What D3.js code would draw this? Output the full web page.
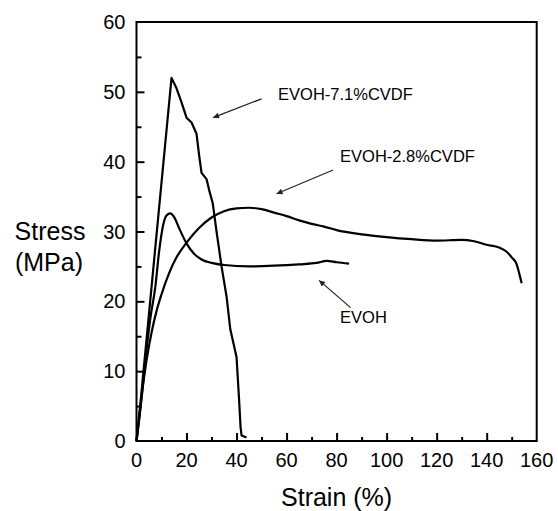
<!DOCTYPE html>
<html>
<head>
<meta charset="utf-8">
<script src="https://cdn.jsdelivr.net/npm/d3@7"></script>
<style>
  body { margin: 0; background: #fff; }
  text { font-family: Arial, "Liberation Sans", sans-serif; fill: #000; }
</style>
</head>
<body>
<svg id="chart" width="558" height="511"></svg>
<script>
// strain (%) / stress (MPa)
var evoh71 = [[0,0],[2,7],[14,52],[16,50.5],[18,48.5],[20,46.3],[22,45.6],[24,44],[25,41],[26,38.4],[28,37.5],[29,36],[30.5,34],[32,30],[34,25],[36,20.7],[37.5,16],[39,13.6],[40,12],[41,6],[41.6,2],[42,0.8],[44,0.5]];
var evoh28 = [[0,0],[1,3],[2,6.3],[4,11.5],[6,15.5],[8,18.6],[10,21],[13,24],[16,26.3],[20,28.4],[25,30.5],[30,32],[35,32.9],[40,33.3],[45,33.4],[50,33.2],[55,32.7],[60,32.2],[65,31.6],[70,31.1],[75,30.7],[80,30.2],[90,29.6],[100,29.2],[110,28.9],[120,28.7],[130,28.8],[135,28.6],[140,28.1],[145,27.7],[148,27.1],[150,26.3],[152,25.3],[153,24],[154,22.6]];
var evoh = [[0,0],[2,6],[4,13],[5.5,17.5],[7.5,22],[9,27],[10.7,31],[12,32.3],[13.5,32.6],[15,32.1],[17,30.5],[20,28.3],[23,26.8],[26,26],[30,25.5],[35,25.2],[45,25],[55,25.1],[65,25.3],[72,25.5],[76,25.8],[80,25.6],[85,25.4]];

var xTicks = [0,20,40,60,80,100,120,140,160];
var yTicks = [0,10,20,30,40,50,60];

// annotations: label, label position, arrow from -> to (data coords)
var labels = [
  {text: "EVOH-7.1%CVDF", x: 56.6, y: 48.9, from: [50,49], to: [30.6,46.3]},
  {text: "EVOH-2.8%CVDF", x: 81.4, y: 40, from: [78.6,38.8], to: [56,35.4]},
  {text: "EVOH", x: 81.4, y: 16.9, from: [85.6,19.1], to: [73,23]}
];

var svg = d3.select("#chart");
var pLeft = 136.5, pTop = 22, pRight = 536.7, pBottom = 441;

var x = d3.scaleLinear().domain([0,160]).range([pLeft,pRight]);
var y = d3.scaleLinear().domain([0,60]).range([pBottom,pTop]);

svg.append("defs").append("marker")
  .attr("id","arr").attr("viewBox","0 0 10 10")
  .attr("refX",10).attr("refY",5)
  .attr("markerWidth",12).attr("markerHeight",6)
  .attr("markerUnits","userSpaceOnUse")
  .attr("orient","auto")
  .append("path").attr("d","M0,0L10,5L0,10z").attr("fill","#222");

//axes with inward ticks
var xAxis = svg.append("g").attr("transform","translate(0,"+pBottom+")")
  .call(d3.axisBottom(x).tickValues(d3.range(0,161,10)).tickSize(-4).tickFormat(""));
xAxis.selectAll(".tick line").filter(function(d){ return d % 20 === 0; }).attr("y2",-8);
xAxis.selectAll(".tick").filter(function(d){ return d === 0 || d === 160; }).remove();

var yAxis = svg.append("g").attr("transform","translate("+pLeft+",0)")
  .call(d3.axisLeft(y).tickValues(d3.range(0,61,5)).tickSize(-5).tickFormat(""));
yAxis.selectAll(".tick line").filter(function(d){ return d % 10 === 0; }).attr("x2",8);
yAxis.selectAll(".tick").filter(function(d){ return d === 0 || d === 60; }).remove();

svg.selectAll(".domain").remove();
svg.selectAll(".tick line").attr("stroke","#000").attr("stroke-width",2);

svg.append("rect").attr("x",pLeft).attr("y",pTop)
  .attr("width",pRight-pLeft).attr("height",pBottom-pTop)
  .attr("fill","none").attr("stroke","#000").attr("stroke-width",2);

svg.append("g").selectAll("text").data(xTicks).enter().append("text")
  .attr("x",function(d){ return x(d); }).attr("y",pBottom+26)
  .attr("text-anchor","middle").style("font-size","20px")
  .text(function(d){ return d; });

svg.append("g").selectAll("text").data(yTicks).enter().append("text")
  .attr("x",pLeft-11).attr("y",function(d){ return y(d)+7; })
  .attr("text-anchor","end").style("font-size","20px")
  .text(function(d){ return d; });

svg.append("text").attr("x",(pLeft+pRight)/2).attr("y",506)
  .attr("text-anchor","middle").style("font-size","25px").text("Strain (%)");
svg.append("text").attr("x",50).attr("y",240)
  .attr("text-anchor","middle").style("font-size","25px").text("Stress");
svg.append("text").attr("x",49).attr("y",271)
  .attr("text-anchor","middle").style("font-size","25px").text("(MPa)");

var lineLin = d3.line().x(function(d){ return x(d[0]); }).y(function(d){ return y(d[1]); });
var lineSmooth = d3.line().curve(d3.curveMonotoneX)
  .x(function(d){ return x(d[0]); }).y(function(d){ return y(d[1]); });

svg.append("path").attr("d",lineLin(evoh71)).attr("fill","none")
  .attr("stroke","#000").attr("stroke-width",2.2).attr("stroke-linejoin","round");
svg.append("path").attr("d",lineSmooth(evoh28)).attr("fill","none")
  .attr("stroke","#000").attr("stroke-width",2.2);
svg.append("path").attr("d",lineSmooth(evoh)).attr("fill","none")
  .attr("stroke","#000").attr("stroke-width",2.2);

var ann = svg.append("g");
labels.forEach(function(l){
  ann.append("text").attr("x",x(l.x)).attr("y",y(l.y))
    .style("font-size","16.5px").text(l.text);
  ann.append("line")
    .attr("x1",x(l.from[0])).attr("y1",y(l.from[1]))
    .attr("x2",x(l.to[0])).attr("y2",y(l.to[1]))
    .attr("stroke","#222").attr("stroke-width",1.2)
    .attr("marker-end","url(#arr)");
});
</script>
</body>
</html>
